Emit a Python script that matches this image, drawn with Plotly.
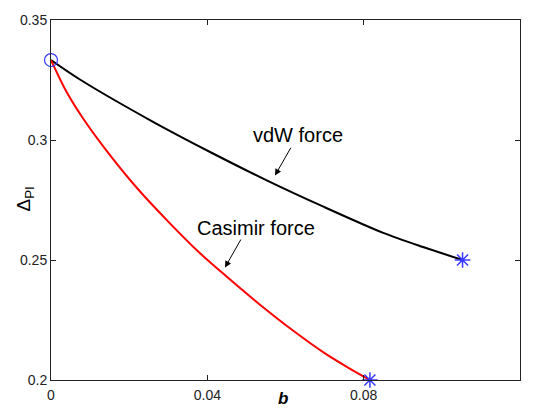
import plotly.graph_objects as go

# vdW force curve
vdw_b = [0.0, 0.0074, 0.0253, 0.0407, 0.0552, 0.0700, 0.0850, 0.0950, 0.1053]
vdw_d = [0.3333, 0.3252, 0.3083, 0.2950, 0.2832, 0.2720, 0.2613, 0.2555, 0.2500]

# Casimir force curve
cas_b = [0.0, 0.004, 0.008, 0.014, 0.022, 0.030, 0.038, 0.045, 0.053, 0.062, 0.070, 0.076, 0.0816]
cas_d = [0.3333, 0.3200, 0.3095, 0.2960, 0.2800, 0.2660, 0.2530, 0.2430, 0.2320, 0.2205, 0.2112, 0.2052, 0.2000]

start_b = [0.0]
start_d = [0.3333]
end_b = [0.1053, 0.0816]
end_d = [0.2500, 0.2000]

xticks = [0, 0.04, 0.08, 0.12]
xtick_text = ["0", "0.04", "0.08", "0.12"]
yticks = [0.2, 0.25, 0.3, 0.35]
ytick_text = ["0.2", "0.25", "0.3", "0.35"]

FONT = "Liberation Sans, Arial, Helvetica, sans-serif"

fig = go.Figure()
fig.add_trace(go.Scatter(x=vdw_b, y=vdw_d, mode="lines",
                         line=dict(color="black", width=2, shape="spline", smoothing=0.8),
                         showlegend=False, hoverinfo="skip"))
fig.add_trace(go.Scatter(x=cas_b, y=cas_d, mode="lines",
                         line=dict(color="#ff0000", width=2, shape="spline", smoothing=0.8),
                         showlegend=False, hoverinfo="skip"))
fig.add_trace(go.Scatter(x=start_b, y=start_d, mode="markers",
                         marker=dict(symbol="circle-open", size=13, color="#3a3aff", line=dict(width=1.2)),
                         showlegend=False, hoverinfo="skip", cliponaxis=False))
fig.add_trace(go.Scatter(x=end_b, y=end_d, mode="markers",
                         marker=dict(symbol="asterisk-open", size=13, color="#3a3aff",
                                     line=dict(width=1.5, color="#3a3aff")),
                         showlegend=False, hoverinfo="skip", cliponaxis=False))

axis_common = dict(showgrid=False, zeroline=False, showline=True, linecolor="#222222", linewidth=1,
                   mirror="ticks", ticks="inside", ticklen=5, tickcolor="#222222",
                   tickfont=dict(family=FONT, size=14, color="#222222"))

fig.update_xaxes(range=[0, 0.12], tickvals=xticks, ticktext=xtick_text, ticklabelstandoff=2, **axis_common)
fig.update_yaxes(range=[0.2, 0.35], tickvals=yticks, ticktext=ytick_text, **axis_common)

annotations = [
    dict(x=0.05731, y=0.2852, xref="x", yref="y", ax=16.7, ay=-29.3, text="", showarrow=True,
         arrowhead=2, arrowsize=1.3, arrowwidth=1, arrowcolor="black"),
    dict(x=0.04452, y=0.2469, xref="x", yref="y", ax=16.7, ay=-29.4, text="", showarrow=True,
         arrowhead=2, arrowsize=1.3, arrowwidth=1, arrowcolor="black"),
    dict(x=0.0632, y=0.3020, xref="x", yref="y", text="vdW force", showarrow=False,
         xanchor="center", yanchor="middle", font=dict(family=FONT, size=20, color="black")),
    dict(x=0.05233, y=0.2633, xref="x", yref="y", text="Casimir force", showarrow=False,
         xanchor="center", yanchor="middle", font=dict(family=FONT, size=20, color="black")),
    dict(x=(283 - 51) / 469, y=-(407 - 388) / 369, xref="paper", yref="paper", text="<b><i>b</i></b>",
         xanchor="center", yanchor="middle", showarrow=False, font=dict(family=FONT, size=17, color="black")),
    dict(x=-(51 - 25) / 469, y=(388 - 203) / 369, xref="paper", yref="paper", text="Δ<sub>PI</sub>",
         xanchor="center", yanchor="middle", textangle=-90, showarrow=False,
         font=dict(family=FONT, size=19, color="black")),
]

fig.update_layout(width=533, height=415, margin=dict(l=51, r=13, t=19, b=27),
                  plot_bgcolor="white", paper_bgcolor="white", annotations=annotations)

fig.write_html("out.html")
